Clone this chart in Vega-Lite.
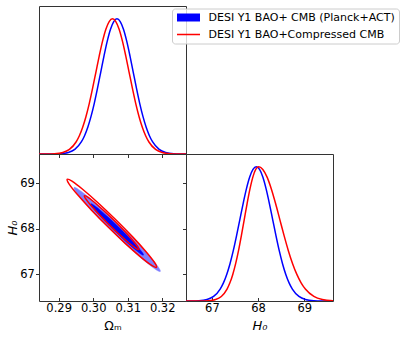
{
  "$schema": "https://vega.github.io/schema/vega-lite/v6.json",
  "padding": {"left": 5, "top": 5, "right": 5, "bottom": 5},
  "background": "white",
  "config": {
    "font": "DejaVu Sans",
    "view": {"stroke": "#333333", "strokeWidth": 1},
    "axis": {"domain": false, "grid": false, "tickColor": "#333333", "tickSize": 3.5, "tickWidth": 1, "labelFontSize": 11.5, "labelColor": "black", "titleFontSize": 12.5, "titleColor": "black", "titleFontWeight": "normal", "labelPadding": 1.5, "titlePadding": 3}
  },
  "datasets": {
    "om1d": [
      {"series": "DESI Y1 BAO+ CMB (Planck+ACT)", "x": 0.2843, "y": 0},
      {"series": "DESI Y1 BAO+ CMB (Planck+ACT)", "x": 0.2881, "y": 0.0003},
      {"series": "DESI Y1 BAO+ CMB (Planck+ACT)", "x": 0.29045, "y": 0.0022},
      {"series": "DESI Y1 BAO+ CMB (Planck+ACT)", "x": 0.2928, "y": 0.0111},
      {"series": "DESI Y1 BAO+ CMB (Planck+ACT)", "x": 0.29468, "y": 0.034},
      {"series": "DESI Y1 BAO+ CMB (Planck+ACT)", "x": 0.29656, "y": 0.0889},
      {"series": "DESI Y1 BAO+ CMB (Planck+ACT)", "x": 0.2975, "y": 0.1353},
      {"series": "DESI Y1 BAO+ CMB (Planck+ACT)", "x": 0.29844, "y": 0.198},
      {"series": "DESI Y1 BAO+ CMB (Planck+ACT)", "x": 0.29938, "y": 0.278},
      {"series": "DESI Y1 BAO+ CMB (Planck+ACT)", "x": 0.30032, "y": 0.375},
      {"series": "DESI Y1 BAO+ CMB (Planck+ACT)", "x": 0.30126, "y": 0.487},
      {"series": "DESI Y1 BAO+ CMB (Planck+ACT)", "x": 0.3022, "y": 0.6065},
      {"series": "DESI Y1 BAO+ CMB (Planck+ACT)", "x": 0.30314, "y": 0.726},
      {"series": "DESI Y1 BAO+ CMB (Planck+ACT)", "x": 0.30408, "y": 0.835},
      {"series": "DESI Y1 BAO+ CMB (Planck+ACT)", "x": 0.30502, "y": 0.923},
      {"series": "DESI Y1 BAO+ CMB (Planck+ACT)", "x": 0.30596, "y": 0.98},
      {"series": "DESI Y1 BAO+ CMB (Planck+ACT)", "x": 0.3069, "y": 1},
      {"series": "DESI Y1 BAO+ CMB (Planck+ACT)", "x": 0.30784, "y": 0.98},
      {"series": "DESI Y1 BAO+ CMB (Planck+ACT)", "x": 0.30878, "y": 0.923},
      {"series": "DESI Y1 BAO+ CMB (Planck+ACT)", "x": 0.30972, "y": 0.835},
      {"series": "DESI Y1 BAO+ CMB (Planck+ACT)", "x": 0.31066, "y": 0.726},
      {"series": "DESI Y1 BAO+ CMB (Planck+ACT)", "x": 0.3116, "y": 0.6065},
      {"series": "DESI Y1 BAO+ CMB (Planck+ACT)", "x": 0.31254, "y": 0.487},
      {"series": "DESI Y1 BAO+ CMB (Planck+ACT)", "x": 0.31348, "y": 0.375},
      {"series": "DESI Y1 BAO+ CMB (Planck+ACT)", "x": 0.31442, "y": 0.278},
      {"series": "DESI Y1 BAO+ CMB (Planck+ACT)", "x": 0.31536, "y": 0.198},
      {"series": "DESI Y1 BAO+ CMB (Planck+ACT)", "x": 0.3163, "y": 0.1353},
      {"series": "DESI Y1 BAO+ CMB (Planck+ACT)", "x": 0.31724, "y": 0.0889},
      {"series": "DESI Y1 BAO+ CMB (Planck+ACT)", "x": 0.31912, "y": 0.034},
      {"series": "DESI Y1 BAO+ CMB (Planck+ACT)", "x": 0.321, "y": 0.0111},
      {"series": "DESI Y1 BAO+ CMB (Planck+ACT)", "x": 0.32335, "y": 0.0022},
      {"series": "DESI Y1 BAO+ CMB (Planck+ACT)", "x": 0.3257, "y": 0.0003},
      {"series": "DESI Y1 BAO+ CMB (Planck+ACT)", "x": 0.3269, "y": 0},
      {"series": "DESI Y1 BAO+Compressed CMB", "x": 0.2843, "y": 0},
      {"series": "DESI Y1 BAO+Compressed CMB", "x": 0.2864, "y": 0.0003},
      {"series": "DESI Y1 BAO+Compressed CMB", "x": 0.2888, "y": 0.0022},
      {"series": "DESI Y1 BAO+Compressed CMB", "x": 0.2912, "y": 0.0111},
      {"series": "DESI Y1 BAO+Compressed CMB", "x": 0.29312, "y": 0.034},
      {"series": "DESI Y1 BAO+Compressed CMB", "x": 0.29504, "y": 0.0889},
      {"series": "DESI Y1 BAO+Compressed CMB", "x": 0.296, "y": 0.1353},
      {"series": "DESI Y1 BAO+Compressed CMB", "x": 0.29696, "y": 0.198},
      {"series": "DESI Y1 BAO+Compressed CMB", "x": 0.29792, "y": 0.278},
      {"series": "DESI Y1 BAO+Compressed CMB", "x": 0.29888, "y": 0.375},
      {"series": "DESI Y1 BAO+Compressed CMB", "x": 0.29984, "y": 0.487},
      {"series": "DESI Y1 BAO+Compressed CMB", "x": 0.3008, "y": 0.6065},
      {"series": "DESI Y1 BAO+Compressed CMB", "x": 0.30176, "y": 0.726},
      {"series": "DESI Y1 BAO+Compressed CMB", "x": 0.30272, "y": 0.835},
      {"series": "DESI Y1 BAO+Compressed CMB", "x": 0.30368, "y": 0.923},
      {"series": "DESI Y1 BAO+Compressed CMB", "x": 0.30464, "y": 0.98},
      {"series": "DESI Y1 BAO+Compressed CMB", "x": 0.3056, "y": 1},
      {"series": "DESI Y1 BAO+Compressed CMB", "x": 0.30656, "y": 0.98},
      {"series": "DESI Y1 BAO+Compressed CMB", "x": 0.30752, "y": 0.923},
      {"series": "DESI Y1 BAO+Compressed CMB", "x": 0.30848, "y": 0.835},
      {"series": "DESI Y1 BAO+Compressed CMB", "x": 0.30944, "y": 0.726},
      {"series": "DESI Y1 BAO+Compressed CMB", "x": 0.3104, "y": 0.6065},
      {"series": "DESI Y1 BAO+Compressed CMB", "x": 0.31136, "y": 0.487},
      {"series": "DESI Y1 BAO+Compressed CMB", "x": 0.31232, "y": 0.375},
      {"series": "DESI Y1 BAO+Compressed CMB", "x": 0.31328, "y": 0.278},
      {"series": "DESI Y1 BAO+Compressed CMB", "x": 0.31424, "y": 0.198},
      {"series": "DESI Y1 BAO+Compressed CMB", "x": 0.3152, "y": 0.1353},
      {"series": "DESI Y1 BAO+Compressed CMB", "x": 0.31616, "y": 0.0889},
      {"series": "DESI Y1 BAO+Compressed CMB", "x": 0.31808, "y": 0.034},
      {"series": "DESI Y1 BAO+Compressed CMB", "x": 0.32, "y": 0.0111},
      {"series": "DESI Y1 BAO+Compressed CMB", "x": 0.3224, "y": 0.0022},
      {"series": "DESI Y1 BAO+Compressed CMB", "x": 0.3248, "y": 0.0003},
      {"series": "DESI Y1 BAO+Compressed CMB", "x": 0.3269, "y": 0}
    ],
    "h01d": [
      {"series": "DESI Y1 BAO+ CMB (Planck+ACT)", "x": 66.44, "y": 0},
      {"series": "DESI Y1 BAO+ CMB (Planck+ACT)", "x": 66.54, "y": 0.0003},
      {"series": "DESI Y1 BAO+ CMB (Planck+ACT)", "x": 66.718, "y": 0.0022},
      {"series": "DESI Y1 BAO+ CMB (Planck+ACT)", "x": 66.895, "y": 0.0111},
      {"series": "DESI Y1 BAO+ CMB (Planck+ACT)", "x": 67.037, "y": 0.034},
      {"series": "DESI Y1 BAO+ CMB (Planck+ACT)", "x": 67.179, "y": 0.0889},
      {"series": "DESI Y1 BAO+ CMB (Planck+ACT)", "x": 67.25, "y": 0.1353},
      {"series": "DESI Y1 BAO+ CMB (Planck+ACT)", "x": 67.321, "y": 0.198},
      {"series": "DESI Y1 BAO+ CMB (Planck+ACT)", "x": 67.392, "y": 0.278},
      {"series": "DESI Y1 BAO+ CMB (Planck+ACT)", "x": 67.463, "y": 0.375},
      {"series": "DESI Y1 BAO+ CMB (Planck+ACT)", "x": 67.534, "y": 0.487},
      {"series": "DESI Y1 BAO+ CMB (Planck+ACT)", "x": 67.605, "y": 0.6065},
      {"series": "DESI Y1 BAO+ CMB (Planck+ACT)", "x": 67.676, "y": 0.726},
      {"series": "DESI Y1 BAO+ CMB (Planck+ACT)", "x": 67.747, "y": 0.835},
      {"series": "DESI Y1 BAO+ CMB (Planck+ACT)", "x": 67.818, "y": 0.923},
      {"series": "DESI Y1 BAO+ CMB (Planck+ACT)", "x": 67.889, "y": 0.98},
      {"series": "DESI Y1 BAO+ CMB (Planck+ACT)", "x": 67.96, "y": 1},
      {"series": "DESI Y1 BAO+ CMB (Planck+ACT)", "x": 68.031, "y": 0.98},
      {"series": "DESI Y1 BAO+ CMB (Planck+ACT)", "x": 68.102, "y": 0.923},
      {"series": "DESI Y1 BAO+ CMB (Planck+ACT)", "x": 68.173, "y": 0.835},
      {"series": "DESI Y1 BAO+ CMB (Planck+ACT)", "x": 68.244, "y": 0.726},
      {"series": "DESI Y1 BAO+ CMB (Planck+ACT)", "x": 68.315, "y": 0.6065},
      {"series": "DESI Y1 BAO+ CMB (Planck+ACT)", "x": 68.386, "y": 0.487},
      {"series": "DESI Y1 BAO+ CMB (Planck+ACT)", "x": 68.457, "y": 0.375},
      {"series": "DESI Y1 BAO+ CMB (Planck+ACT)", "x": 68.528, "y": 0.278},
      {"series": "DESI Y1 BAO+ CMB (Planck+ACT)", "x": 68.599, "y": 0.198},
      {"series": "DESI Y1 BAO+ CMB (Planck+ACT)", "x": 68.67, "y": 0.1353},
      {"series": "DESI Y1 BAO+ CMB (Planck+ACT)", "x": 68.741, "y": 0.0889},
      {"series": "DESI Y1 BAO+ CMB (Planck+ACT)", "x": 68.883, "y": 0.034},
      {"series": "DESI Y1 BAO+ CMB (Planck+ACT)", "x": 69.025, "y": 0.0111},
      {"series": "DESI Y1 BAO+ CMB (Planck+ACT)", "x": 69.203, "y": 0.0022},
      {"series": "DESI Y1 BAO+ CMB (Planck+ACT)", "x": 69.38, "y": 0.0003},
      {"series": "DESI Y1 BAO+ CMB (Planck+ACT)", "x": 69.62, "y": 0},
      {"series": "DESI Y1 BAO+Compressed CMB", "x": 66.44, "y": 0},
      {"series": "DESI Y1 BAO+Compressed CMB", "x": 66.77, "y": 0.0003},
      {"series": "DESI Y1 BAO+Compressed CMB", "x": 66.925, "y": 0.0022},
      {"series": "DESI Y1 BAO+Compressed CMB", "x": 67.08, "y": 0.0111},
      {"series": "DESI Y1 BAO+Compressed CMB", "x": 67.204, "y": 0.034},
      {"series": "DESI Y1 BAO+Compressed CMB", "x": 67.328, "y": 0.0889},
      {"series": "DESI Y1 BAO+Compressed CMB", "x": 67.39, "y": 0.1353},
      {"series": "DESI Y1 BAO+Compressed CMB", "x": 67.452, "y": 0.198},
      {"series": "DESI Y1 BAO+Compressed CMB", "x": 67.514, "y": 0.278},
      {"series": "DESI Y1 BAO+Compressed CMB", "x": 67.576, "y": 0.375},
      {"series": "DESI Y1 BAO+Compressed CMB", "x": 67.638, "y": 0.487},
      {"series": "DESI Y1 BAO+Compressed CMB", "x": 67.7, "y": 0.6065},
      {"series": "DESI Y1 BAO+Compressed CMB", "x": 67.762, "y": 0.726},
      {"series": "DESI Y1 BAO+Compressed CMB", "x": 67.824, "y": 0.835},
      {"series": "DESI Y1 BAO+Compressed CMB", "x": 67.886, "y": 0.923},
      {"series": "DESI Y1 BAO+Compressed CMB", "x": 67.948, "y": 0.98},
      {"series": "DESI Y1 BAO+Compressed CMB", "x": 68.01, "y": 1},
      {"series": "DESI Y1 BAO+Compressed CMB", "x": 68.102, "y": 0.98},
      {"series": "DESI Y1 BAO+Compressed CMB", "x": 68.194, "y": 0.923},
      {"series": "DESI Y1 BAO+Compressed CMB", "x": 68.286, "y": 0.835},
      {"series": "DESI Y1 BAO+Compressed CMB", "x": 68.378, "y": 0.726},
      {"series": "DESI Y1 BAO+Compressed CMB", "x": 68.47, "y": 0.6065},
      {"series": "DESI Y1 BAO+Compressed CMB", "x": 68.562, "y": 0.487},
      {"series": "DESI Y1 BAO+Compressed CMB", "x": 68.654, "y": 0.375},
      {"series": "DESI Y1 BAO+Compressed CMB", "x": 68.746, "y": 0.278},
      {"series": "DESI Y1 BAO+Compressed CMB", "x": 68.838, "y": 0.198},
      {"series": "DESI Y1 BAO+Compressed CMB", "x": 68.93, "y": 0.1353},
      {"series": "DESI Y1 BAO+Compressed CMB", "x": 69.022, "y": 0.0889},
      {"series": "DESI Y1 BAO+Compressed CMB", "x": 69.206, "y": 0.034},
      {"series": "DESI Y1 BAO+Compressed CMB", "x": 69.39, "y": 0.0111},
      {"series": "DESI Y1 BAO+Compressed CMB", "x": 69.62, "y": 0.0022}
    ],
    "contours": [
      {"c": "b95", "om": 0.31945, "h0": 67.062},
      {"c": "b95", "om": 0.31886, "h0": 67.161},
      {"c": "b95", "om": 0.31646, "h0": 67.385},
      {"c": "b95", "om": 0.31261, "h0": 67.700},
      {"c": "b95", "om": 0.3079, "h0": 68.059},
      {"c": "b95", "om": 0.30305, "h0": 68.407},
      {"c": "b95", "om": 0.29878, "h0": 68.690},
      {"c": "b95", "om": 0.29576, "h0": 68.866},
      {"c": "b95", "om": 0.29445, "h0": 68.908},
      {"c": "b95", "om": 0.29504, "h0": 68.809},
      {"c": "b95", "om": 0.29744, "h0": 68.585},
      {"c": "b95", "om": 0.30129, "h0": 68.270},
      {"c": "b95", "om": 0.306, "h0": 67.911},
      {"c": "b95", "om": 0.31085, "h0": 67.563},
      {"c": "b95", "om": 0.31512, "h0": 67.280},
      {"c": "b95", "om": 0.31814, "h0": 67.104},
      {"c": "b68", "om": 0.31458, "h0": 67.422},
      {"c": "b68", "om": 0.31422, "h0": 67.482},
      {"c": "b68", "om": 0.31276, "h0": 67.619},
      {"c": "b68", "om": 0.31041, "h0": 67.811},
      {"c": "b68", "om": 0.30753, "h0": 68.030},
      {"c": "b68", "om": 0.30457, "h0": 68.242},
      {"c": "b68", "om": 0.30196, "h0": 68.415},
      {"c": "b68", "om": 0.30012, "h0": 68.522},
      {"c": "b68", "om": 0.29932, "h0": 68.548},
      {"c": "b68", "om": 0.29968, "h0": 68.488},
      {"c": "b68", "om": 0.30114, "h0": 68.351},
      {"c": "b68", "om": 0.30349, "h0": 68.159},
      {"c": "b68", "om": 0.30637, "h0": 67.940},
      {"c": "b68", "om": 0.30933, "h0": 67.728},
      {"c": "b68", "om": 0.31194, "h0": 67.555},
      {"c": "b68", "om": 0.31378, "h0": 67.448},
      {"c": "r95", "om": 0.31835, "h0": 67.154},
      {"c": "r95", "om": 0.31778, "h0": 67.259},
      {"c": "r95", "om": 0.31532, "h0": 67.496},
      {"c": "r95", "om": 0.31136, "h0": 67.828},
      {"c": "r95", "om": 0.30649, "h0": 68.204},
      {"c": "r95", "om": 0.30146, "h0": 68.568},
      {"c": "r95", "om": 0.29702, "h0": 68.863},
      {"c": "r95", "om": 0.29386, "h0": 69.046},
      {"c": "r95", "om": 0.29247, "h0": 69.088},
      {"c": "r95", "om": 0.29304, "h0": 68.983},
      {"c": "r95", "om": 0.2955, "h0": 68.746},
      {"c": "r95", "om": 0.29946, "h0": 68.415},
      {"c": "r95", "om": 0.30433, "h0": 68.038},
      {"c": "r95", "om": 0.30936, "h0": 67.674},
      {"c": "r95", "om": 0.3138, "h0": 67.379},
      {"c": "r95", "om": 0.31696, "h0": 67.196},
      {"c": "r68", "om": 0.31324, "h0": 67.546},
      {"c": "r68", "om": 0.31289, "h0": 67.610},
      {"c": "r68", "om": 0.3114, "h0": 67.755},
      {"c": "r68", "om": 0.30898, "h0": 67.957},
      {"c": "r68", "om": 0.30601, "h0": 68.187},
      {"c": "r68", "om": 0.30294, "h0": 68.409},
      {"c": "r68", "om": 0.30024, "h0": 68.589},
      {"c": "r68", "om": 0.29831, "h0": 68.700},
      {"c": "r68", "om": 0.29746, "h0": 68.726},
      {"c": "r68", "om": 0.29781, "h0": 68.662},
      {"c": "r68", "om": 0.2993, "h0": 68.517},
      {"c": "r68", "om": 0.30172, "h0": 68.315},
      {"c": "r68", "om": 0.30469, "h0": 68.085},
      {"c": "r68", "om": 0.30776, "h0": 67.863},
      {"c": "r68", "om": 0.31046, "h0": 67.683},
      {"c": "r68", "om": 0.31239, "h0": 67.571}
    ]
  },
  "columns": 2,
  "spacing": 0,
  "bounds": "flush",
  "concat": [
    {
      "width": 147,
      "height": 148,
      "data": {"name": "om1d"},
      "mark": {"type": "line", "strokeWidth": 1.5, "interpolate": "monotone", "clip": true},
      "encoding": {
        "x": {"field": "x", "type": "quantitative", "scale": {"domain": [0.2843, 0.3269], "nice": false, "zero": false}, "axis": {"values": [0.29, 0.30, 0.31, 0.32], "labels": false, "title": null}},
        "y": {"field": "y", "type": "quantitative", "scale": {"domain": [0, 1.095], "nice": false}, "axis": null},
        "color": {
          "field": "series", "type": "nominal",
          "scale": {"domain": ["DESI Y1 BAO+ CMB (Planck+ACT)", "DESI Y1 BAO+Compressed CMB"], "range": ["#0000ff", "#ff0000"]},
          "legend": {
            "title": null, "orient": "none", "legendX": 133, "legendY": 2.5,
            "labelFontSize": 11, "labelColor": "black", "labelLimit": 400,
            "symbolSize": 64, "labelOffset": 22, "rowPadding": 5, "padding": 3.5,
            "fillColor": "rgba(255,255,255,0.8)", "strokeColor": "#cccccc", "cornerRadius": 3,
            "encode": {
              "symbols": {
                "update": {
                  "shape": {"signal": "datum.value === 'DESI Y1 BAO+Compressed CMB' ? 'M-1,-0.19H4.75V0.19H-1Z' : 'M-1,-1H4.75V1H-1Z'"},
                  "fill": {"signal": "datum.value === 'DESI Y1 BAO+Compressed CMB' ? '#ff0000' : '#0000ff'"},
                  "stroke": {"value": "transparent"},
                  "strokeWidth": {"value": 0},
                  "opacity": {"value": 1}
                }
              }
            }
          }
        }
      }
    },
    {
      "width": 147,
      "height": 148,
      "view": {"stroke": null},
      "data": {"values": [{}]},
      "mark": {"type": "text", "text": ""}
    },
    {
      "width": 147,
      "height": 147,
      "data": {"name": "contours"},
      "encoding": {
        "x": {"field": "om", "type": "quantitative", "scale": {"domain": [0.2843, 0.3269], "nice": false, "zero": false}, "axis": {"values": [0.29, 0.30, 0.31, 0.32], "format": ".2f", "title": "Ωₘ", "tickSize": -3.5, "labelPadding": 4.5, "titlePadding": 6}},
        "y": {"field": "h0", "type": "quantitative", "scale": {"domain": [66.413, 69.644], "nice": false, "zero": false}, "axis": {"values": [67, 68, 69], "format": "d", "title": "H₀", "titleFontStyle": "italic", "titleFontSize": 13, "labelPadding": 1.2, "titlePadding": 0.5}},
        "order": {"value": null}
      },
      "layer": [
        {"transform": [{"filter": "datum.c === 'b95'"}], "mark": {"type": "line", "interpolate": "cardinal-closed", "fill": "#8080ff", "stroke": "#8080ff", "strokeWidth": 0.5, "clip": true}},
        {"transform": [{"filter": "datum.c === 'b68'"}], "mark": {"type": "line", "interpolate": "cardinal-closed", "fill": "#0000ff", "stroke": "#0000ff", "strokeWidth": 0.5, "clip": true}},
        {"transform": [{"filter": "datum.c === 'r95'"}], "mark": {"type": "line", "interpolate": "cardinal-closed", "stroke": "#ff0000", "strokeWidth": 1.5, "clip": true}},
        {"transform": [{"filter": "datum.c === 'r68'"}], "mark": {"type": "line", "interpolate": "cardinal-closed", "stroke": "#ff0000", "strokeWidth": 1.5, "clip": true}}
      ]
    },
    {
      "width": 147,
      "height": 147,
      "data": {"name": "h01d"},
      "mark": {"type": "line", "strokeWidth": 1.5, "interpolate": "monotone", "clip": true},
      "encoding": {
        "x": {"field": "x", "type": "quantitative", "scale": {"domain": [66.44, 69.62], "nice": false, "zero": false}, "axis": {"values": [67, 68, 69], "format": "d", "title": "H₀", "titleFontStyle": "italic", "titleFontSize": 13, "tickSize": -3.5, "labelPadding": 4.5, "titlePadding": 6}},
        "y": {"field": "y", "type": "quantitative", "scale": {"domain": [0, 1.095], "nice": false}, "axis": {"values": [0.199, 0.536, 0.877], "labels": false, "title": null}},
        "color": {"field": "series", "type": "nominal", "legend": null}
      }
    }
  ]
}
